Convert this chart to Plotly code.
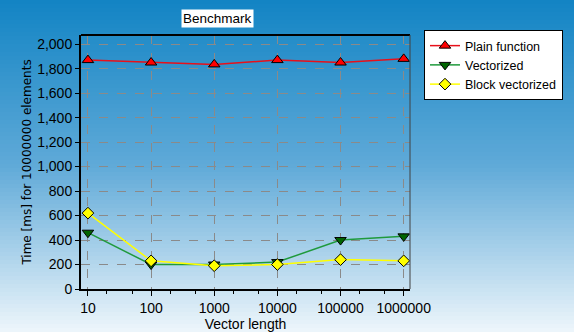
import plotly.graph_objects as go

categories = [10, 100, 1000, 10000, 100000, 1000000]
tick_labels = ["10", "100", "1000", "10000", "100000", "1000000"]
plain = [1870, 1850, 1835, 1870, 1850, 1880]
vectorized = [460, 200, 200, 220, 400, 430]
block = [620, 230, 190, 200, 240, 230]

W, H = 574, 332
L, R, T, B = 81, 164, 35, 43
pw, ph = W - L - R, H - T - B

font = "Liberation Sans, Arial, sans-serif"

def lerp(c1, c2, t):
    return tuple(round(a + (b - a) * t) for a, b in zip(c1, c2))

stops = [(0.0, (18, 132, 196)), (0.5, (96, 170, 216)), (1.0, (238, 246, 251))]

def grad(t):
    for (t0, c0), (t1, c1) in zip(stops, stops[1:]):
        if t <= t1:
            return lerp(c0, c1, (t - t0) / (t1 - t0))
    return stops[-1][1]

shapes = []
N = 83
for i in range(N):
    t = (i + 0.5) / N
    c = grad(t)
    ytop = i * H / N
    ybot = (i + 1) * H / N + 0.5
    shapes.append(dict(type="rect", xref="paper", yref="paper",
                       x0=-L / pw, x1=1 + R / pw,
                       y0=(H - B - ybot) / ph, y1=(H - B - ytop) / ph,
                       fillcolor="rgb(%d,%d,%d)" % c, line=dict(width=0), layer="below"))

shapes += [
    dict(type="line", xref="paper", yref="paper", x0=0, x1=1, y0=1, y1=1,
         line=dict(color="black", width=2)),
    dict(type="line", xref="paper", yref="paper", x0=1, x1=1, y0=0, y1=1,
         line=dict(color="#404040", width=1)),
    dict(type="rect", xref="paper", yref="paper", x0=(428 - L) / pw, x1=(563 - L) / pw,
         y0=(289 - 98) / ph, y1=(289 - 34) / ph, fillcolor="black", line=dict(width=0)),
]

fig = go.Figure()
fig.add_trace(go.Scatter(x=categories, y=plain, name="Plain function", mode="lines+markers",
                         line=dict(color="#e8101a", width=1.5),
                         marker=dict(symbol="triangle-up", size=10, color="#ff0000",
                                     line=dict(color="black", width=1))))
fig.add_trace(go.Scatter(x=categories, y=vectorized, name="Vectorized", mode="lines+markers",
                         line=dict(color="#1f9a3c", width=1.5),
                         marker=dict(symbol="triangle-down", size=10, color="#006400",
                                     line=dict(color="black", width=1))))
fig.add_trace(go.Scatter(x=categories, y=block, name="Block vectorized", mode="lines+markers",
                         line=dict(color="#ffff00", width=1.5),
                         marker=dict(symbol="diamond", size=9, color="#ffff00",
                                     line=dict(color="black", width=1))))

fig.update_layout(
    width=W, height=H,
    margin=dict(l=L, r=R, t=T, b=B, autoexpand=False),
    paper_bgcolor="#eef6fb",
    plot_bgcolor="rgba(0,0,0,0)",
    font=dict(family=font, size=13, color="black"),
    showlegend=True,
    legend=dict(x=(424 - L) / pw, y=(289 - 30) / ph, xanchor="left", yanchor="top",
                bgcolor="white", bordercolor="black", borderwidth=1,
                font=dict(size=12.5), tracegroupgap=0, itemwidth=30),
    xaxis=dict(type="log", range=[1 - 0.11, 6 + 0.1], tickvals=categories, ticktext=tick_labels,
               showgrid=True, gridcolor="#8a8a8a", griddash="dash", gridwidth=1,
               showline=True, linecolor="black", linewidth=2, mirror=False,
               ticks="outside", ticklen=5, tickcolor="black", zeroline=False,
               automargin=False, tickfont=dict(size=14),
               title=dict(text="Vector length", standoff=2, font=dict(size=14)),
               minor=dict(ticks="outside", ticklen=3, tickcolor="black", showgrid=False)),
    yaxis=dict(range=[0, 2075], tickvals=list(range(0, 2001, 200)), tickformat=",d",
               showgrid=True, gridcolor="#8a8a8a", griddash="dash", gridwidth=1,
               showline=True, linecolor="black", linewidth=2, mirror=False,
               ticks="outside", ticklen=4, tickcolor="black", zeroline=False,
               automargin=False, tickfont=dict(size=14),
               title=dict(text="Time [ms] for 10000000 elements", standoff=3,
                          font=dict(size=12, family="DejaVu Sans, sans-serif"))),
    annotations=[dict(text="Benchmark", xref="paper", yref="paper",
                      x=(217 - L) / pw, y=(289 - 18.5) / ph, showarrow=False,
                      xanchor="center", yanchor="middle",
                      bgcolor="white", font=dict(size=13.5), borderpad=1)],
    shapes=shapes,
)

fig.write_html("out.html", config={"displayModeBar": False},
               post_script="document.body.style.margin='0';document.body.style.overflow='hidden';")
